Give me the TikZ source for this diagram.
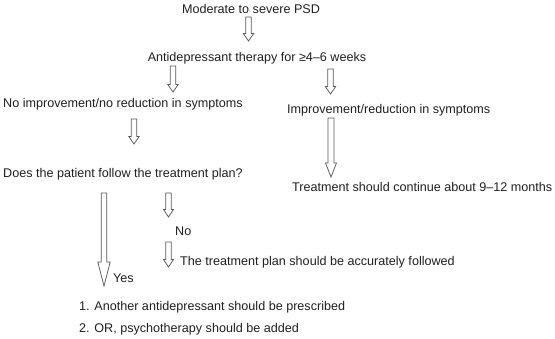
\documentclass[tikz,border=0pt]{standalone}
\usepackage{fontspec}
\setmainfont{Liberation Sans}
\begin{document}
\begin{tikzpicture}[x=1pt,y=-1pt,
  lbl/.style={anchor=base west,inner sep=0pt,font=\fontsize{12.6}{14}\selectfont,text=black!88},
  arrowline/.style={draw=black!65,line width=0.75pt,line join=miter,fill=white}]
\useasboundingbox (0,0) rectangle (555,338);
% x, ytop, ybottom, shaft half width, head half width, head length
\newcommand{\blockarr}[6]{%
  \draw[arrowline] (#1-#4,#2) -- (#1+#4,#2) -- (#1+#4,#3-#6) -- (#1+#5,#3-#6) -- (#1,#3)
    -- (#1-#5,#3-#6) -- (#1-#4,#3-#6) -- cycle;}
\node[lbl,anchor=base] (psd) at (251,13.5) {Moderate to severe PSD};
\node[lbl,anchor=base] (ad) at (257,61) {Antidepressant therapy for ≥4–6 weeks};
\node[lbl] (noimp) at (3,107) {No improvement/no reduction in symptoms};
\node[lbl] (imp) at (287,113.5) {Improvement/reduction in symptoms};
\node[lbl] (follow) at (3,177) {Does the patient follow the treatment plan?};
\node[lbl] (cont) at (292,191) {Treatment should continue about 9–12 months};
\node[lbl] (no) at (175,235.5) {No};
\node[lbl] (acc) at (180,265.5) {The treatment plan should be accurately followed};
\node[lbl] (yes) at (113,282) {Yes};
\node[lbl] (l1) at (79,310.5) {1. Another antidepressant should be prescribed};
\node[lbl] (l2) at (79,332.5) {2. OR, psychotherapy should be added};
\blockarr{248.5}{17}{41}{2.7}{5.2}{7.5}
\blockarr{173}{66}{92}{2.7}{5.2}{7.5}
\blockarr{330.5}{69}{94}{2.7}{5.2}{7.5}
\blockarr{134}{119}{144}{2.7}{5.2}{7.5}
\blockarr{331}{118}{177}{2.9}{5.5}{14}
\blockarr{104}{193}{286}{2.8}{6.2}{24}
\blockarr{168.5}{193}{217}{2.7}{5}{7.5}
\blockarr{168.5}{242}{267}{2.7}{5}{7.5}
\end{tikzpicture}
\end{document}
